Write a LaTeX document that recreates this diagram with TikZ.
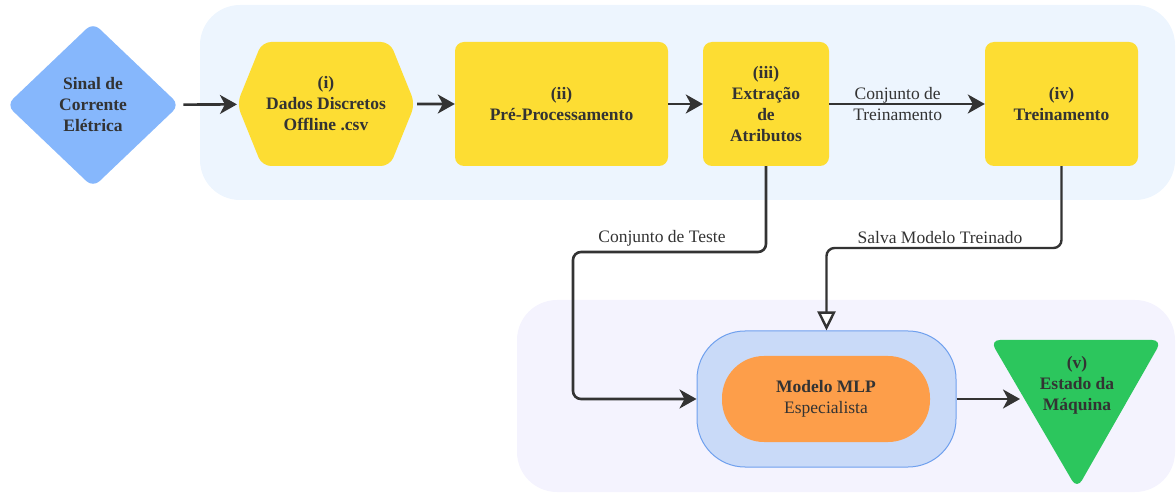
\documentclass[tikz,border=0pt]{standalone}
\usepackage{fontspec}
\setmainfont{LiberationSerif-Regular.ttf}[BoldFont=LiberationSerif-Bold.ttf]
\usetikzlibrary{arrows.meta,shapes.geometric,shapes.symbols}
\definecolor{topbg}{RGB}{237,245,254}
\definecolor{botbg}{RGB}{244,243,254}
\definecolor{dblue}{RGB}{134,183,252}
\definecolor{ylw}{RGB}{253,221,51}
\definecolor{mlpfill}{RGB}{201,218,248}
\definecolor{mlpline}{RGB}{111,160,238}
\definecolor{orng}{RGB}{253,158,74}
\definecolor{grn}{RGB}{44,198,93}
\definecolor{txt}{RGB}{51,51,51}
\begin{document}
\begin{tikzpicture}[x=1pt,y=-1pt,
  base/.style={text=txt, font=\fontsize{17.5}{21}\selectfont\bfseries, align=center, inner sep=0pt},
  plain/.style={text=txt, font=\fontsize{17.5}{21}\selectfont, align=center, inner sep=0pt},
  ybox/.style={base, rectangle, rounded corners=9pt, fill=ylw, minimum height=124pt},
  arr/.style={draw=txt, line width=2.6pt, -{Stealth[length=17pt,width=19pt,inset=5pt]}},
  openarr/.style={draw=txt, line width=2.4pt, -{Triangle[open,fill=white,length=19pt,width=18pt]}}
]
\useasboundingbox (0,0) rectangle (1176,494);
% backgrounds
\fill[topbg, rounded corners=40pt] (200,5) rectangle (1175,200);
\fill[botbg, rounded corners=40pt] (517,300) rectangle (1175,492);

% nodes
\node[base, diamond, fill=dblue, rounded corners=9pt, minimum width=173pt, minimum height=165pt] (sinal) at (93,105) {Sinal de\\Corrente\\Elétrica};
\node[base, signal, signal to=west and east, signal pointer angle=136, fill=ylw, rounded corners=9pt, minimum width=178pt, minimum height=124pt] (dados) at (326,104) {(i)\\Dados Discretos\\Offline .csv};
\node[ybox, minimum width=213pt] (pre) at (561.5,104) {(ii)\\Pré-Processamento};
\node[ybox, minimum width=126pt] (ext) at (766,104) {(iii)\\Extração\\de\\Atributos};
\node[ybox, minimum width=153pt] (trein) at (1061.5,104) {(iv)\\Treinamento};

\node[rectangle, rounded corners=48pt, fill=mlpfill, draw=mlpline, line width=1pt, minimum width=259pt, minimum height=136pt] (mlp) at (826.5,399) {};
\node[plain, rectangle, rounded corners=42pt, fill=orng, minimum width=208pt, minimum height=86pt] (mlpin) at (826,399) {\textbf{Modelo MLP}\\Especialista};

\fill[grn, rounded corners=10pt] (990,340) -- (1162,340) -- (1077,489) -- cycle;
\node[base] (estado) at (1077,385) {(v)\\Estado da\\Máquina};
\coordinate (vin) at (1020,399);

% connectors
\draw[arr, shorten <=4pt] (sinal) -- (dados);
\draw[arr, shorten <=2pt] (dados) -- (pre);
\draw[arr] (pre) -- (ext);
\draw[arr] (ext) -- node[plain, pos=0.44] (lbltr) {Conjunto de\\Treinamento} (trein);
\draw[arr, rounded corners=8pt] (ext.south) |- (573,252) |- (mlp.west);
\node[plain] (lblte) at (662,238) {Conjunto de Teste};
\draw[openarr, rounded corners=8pt] (trein.south) |- (826.5,248) -- (mlp.north);
\node[plain] (lblsa) at (940,238) {Salva Modelo Treinado};
\draw[arr] (mlp.east) -- (vin);
\end{tikzpicture}
\end{document}
